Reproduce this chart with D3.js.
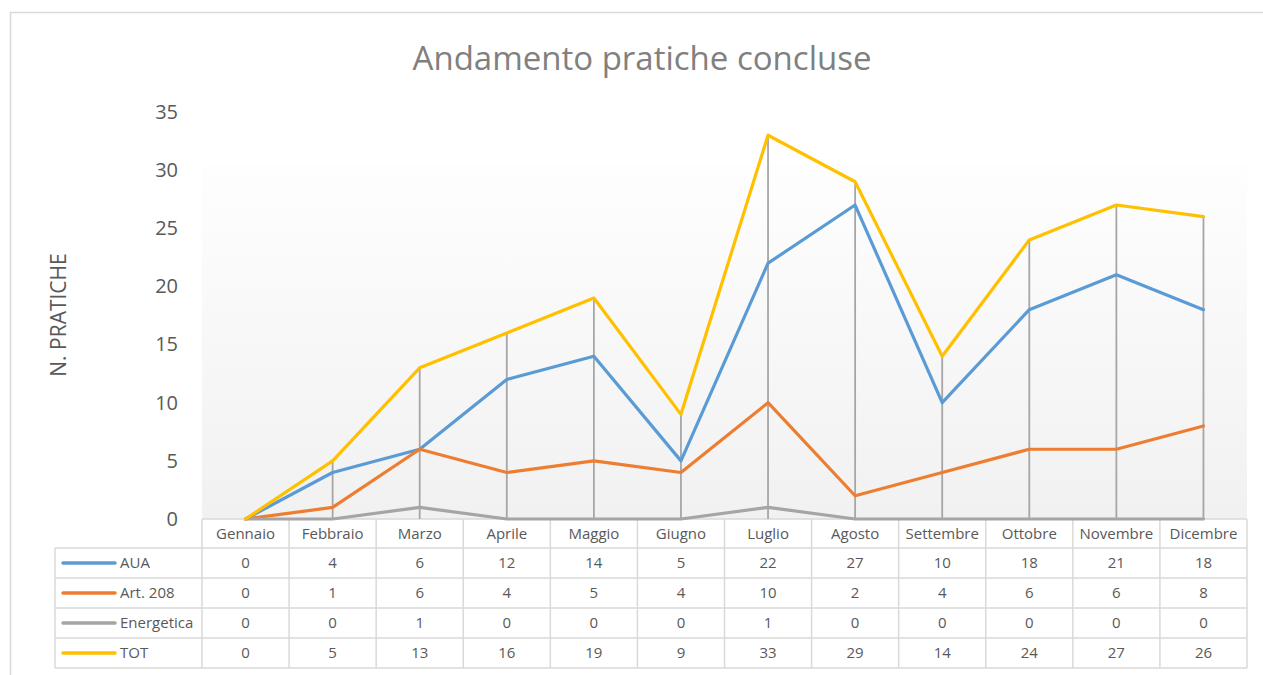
<!DOCTYPE html>
<html>
<head>
<meta charset="utf-8">
<script src="https://cdn.jsdelivr.net/npm/d3@7"></script>
<style>
  body { margin: 0; background: #fff; }
  svg text { font-family: "Open Sans", "Noto Sans", sans-serif; }
</style>
</head>
<body>
<svg id="chart" width="1263" height="675"></svg>
<script>
// dati
var mesi = ["Gennaio", "Febbraio", "Marzo", "Aprile", "Maggio", "Giugno", "Luglio", "Agosto", "Settembre", "Ottobre", "Novembre", "Dicembre"];
var aua = [0, 4, 6, 12, 14, 5, 22, 27, 10, 18, 21, 18];
var art208 = [0, 1, 6, 4, 5, 4, 10, 2, 4, 6, 6, 8];
var energetica = [0, 0, 1, 0, 0, 0, 1, 0, 0, 0, 0, 0];
var tot = [0, 5, 13, 16, 19, 9, 33, 29, 14, 24, 27, 26];
var nomiSerie = ["AUA", "Art. 208", "Energetica", "TOT"];
var coloriSerie = ["#5b9bd5", "#ed7d31", "#a5a5a5", "#ffc000"];
var yTicks = [0, 5, 10, 15, 20, 25, 30, 35];

var serie = [aua, art208, energetica, tot];

var svg = d3.select("#chart");

// cornice esterna
svg.append("rect")
  .attr("x", 10.5).attr("y", 12.5)
  .attr("width", 1400).attr("height", 800)
  .attr("fill", "#fff")
  .attr("stroke", "#d9d9d9")
  .attr("stroke-width", 1.5);

var pLeft = 202, pRight = 1247, pTop = 112, pBottom = 519;

var x = d3.scaleBand().domain(mesi).range([pLeft, pRight]).padding(0);
var y = d3.scaleLinear().domain([0, 35]).range([pBottom, pTop]);

// sfondo sfumato
var defs = svg.append("defs");
var grad = defs.append("linearGradient")
  .attr("id", "sfondo").attr("x1", 0).attr("y1", 0).attr("x2", 0).attr("y2", 1);
grad.append("stop").attr("offset", "0%").attr("stop-color", "#fefefe");
grad.append("stop").attr("offset", "100%").attr("stop-color", "#f1f1f1");

svg.append("rect")
  .attr("x", pLeft).attr("y", y(30.5))
  .attr("width", pRight - pLeft).attr("height", pBottom - y(30.5))
  .attr("fill", "url(#sfondo)");

// titolo
svg.append("text")
  .attr("x", 642).attr("y", 70)
  .attr("text-anchor", "middle")
  .attr("font-size", 33)
  .attr("fill", "#808080")
  .text("Andamento pratiche concluse");

// asse y
var yAxis = d3.axisLeft(y).tickValues(yTicks).tickSize(0).tickPadding(0);
var gy = svg.append("g")
  .attr("transform", "translate(178,0)")
  .call(yAxis);
gy.select(".domain").remove();
gy.selectAll("text")
  .attr("font-size", 20)
  .attr("fill", "#595959")
  .style("font-family", "'Open Sans', sans-serif");

svg.append("text")
  .attr("transform", "translate(66,315) rotate(-90)")
  .attr("text-anchor", "middle")
  .attr("font-size", 21)
  .attr("fill", "#595959")
  .text("N. PRATICHE");

var cx = function(m) { return x(m) + x.bandwidth() / 2; };

// tabella dati
var headerTop = pBottom, headerH = 29, rowH = 30, legLeft = 55;
var bordo = "#d9d9d9";
var tab = svg.append("g");

// intestazione
tab.selectAll("text.mese")
  .data(mesi)
  .enter()
  .append("text")
  .attr("class", "mese")
  .attr("x", function(d) { return cx(d); })
  .attr("y", headerTop + headerH / 2 + 5)
  .attr("text-anchor", "middle")
  .attr("font-size", 15)
  .attr("fill", "#595959")
  .text(function(d) { return d; });

var righe = tab.selectAll("g.riga")
  .data(serie)
  .enter()
  .append("g")
  .attr("class", "riga")
  .attr("transform", function(d, i) { return "translate(0," + (headerTop + headerH + i * rowH) + ")"; });

righe.selectAll("text.val")
  .data(function(d) { return d; })
  .enter()
  .append("text")
  .attr("class", "val")
  .attr("x", function(d, i) { return cx(mesi[i]); })
  .attr("y", rowH / 2 + 5)
  .attr("text-anchor", "middle")
  .attr("font-size", 15)
  .attr("fill", "#595959")
  .text(function(d) { return d; });

righe.append("line")
  .attr("x1", 63).attr("x2", 115)
  .attr("y1", rowH / 2).attr("y2", rowH / 2)
  .attr("stroke", function(d, i) { return coloriSerie[i]; })
  .attr("stroke-width", 3.5)
  .attr("stroke-linecap", "round");

righe.append("text")
  .attr("x", 120)
  .attr("y", rowH / 2 + 5)
  .attr("font-size", 15)
  .attr("fill", "#595959")
  .text(function(d, i) { return nomiSerie[i]; });

// bordi tabella
var tabBottom = headerTop + headerH + serie.length * rowH;
var bordi = tab.append("g")
  .attr("stroke", bordo)
  .attr("stroke-width", 1.5)
  .attr("fill", "none");

bordi.append("line").attr("x1", pRight).attr("x2", pRight).attr("y1", headerTop).attr("y2", tabBottom);
bordi.append("line").attr("x1", legLeft).attr("x2", legLeft).attr("y1", headerTop + headerH).attr("y2", tabBottom);
bordi.selectAll("line.v")
  .data(mesi)
  .enter()
  .append("line")
  .attr("class", "v")
  .attr("x1", function(d) { return x(d); })
  .attr("x2", function(d) { return x(d); })
  .attr("y1", headerTop)
  .attr("y2", tabBottom);
bordi.append("line").attr("x1", pLeft).attr("x2", pRight).attr("y1", headerTop).attr("y2", headerTop);
d3.range(serie.length + 1).forEach(function(i) {
  bordi.append("line")
    .attr("x1", legLeft).attr("x2", pRight)
    .attr("y1", headerTop + headerH + i * rowH)
    .attr("y2", headerTop + headerH + i * rowH);
});

// linee di proiezione
var massimi = mesi.map(function(m, i) { return d3.max(serie, function(s) { return s[i]; }); });
svg.append("g").selectAll("line")
  .data(mesi)
  .enter()
  .append("line")
  .attr("x1", function(d) { return cx(d); })
  .attr("x2", function(d) { return cx(d); })
  .attr("y1", function(d, i) { return y(massimi[i]); })
  .attr("y2", y(0))
  .attr("stroke", "#a6a6a6")
  .attr("stroke-width", 1.8);

// serie (sopra i bordi: la linea Energetica sta sull'asse)
var linea = d3.line()
  .x(function(d, i) { return cx(mesi[i]); })
  .y(function(d) { return y(d); });

svg.append("g").selectAll("path")
  .data(serie)
  .enter()
  .append("path")
  .attr("d", linea)
  .attr("fill", "none")
  .attr("stroke", function(d, i) { return coloriSerie[i]; })
  .attr("stroke-width", 3.2)
  .attr("stroke-linejoin", "round")
  .attr("stroke-linecap", "round");
</script>
</body>
</html>
